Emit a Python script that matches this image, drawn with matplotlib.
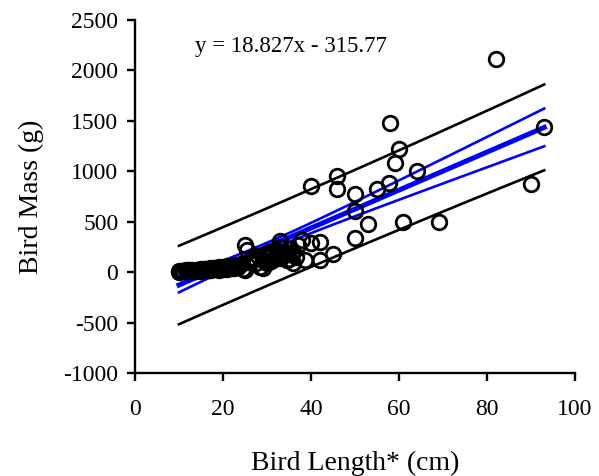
import matplotlib
matplotlib.use("Agg")
import matplotlib.pyplot as plt
import numpy as np

# bird length (cm) and mass (g)
length = [10, 10.5, 11, 11.5, 12, 12.5, 13, 13.5, 14, 14.5, 15, 15.5, 16, 16.5,
          17, 17.5, 18, 18.5, 19, 19.5, 20, 20.5, 21, 21.5, 22, 22.5, 23, 23.5,
          10, 11, 12, 13, 14, 15, 16, 17, 18, 19, 20, 21, 22, 23, 12, 14, 16, 18,
          20, 22, 15, 17, 19, 21,
          24, 24.5, 25, 25, 25.5, 26, 26.5, 27, 27.5, 28, 28.5, 29, 29.5, 30,
          30.5, 31, 31.5, 32, 32.5, 33, 33, 33.5, 34, 34.5, 35, 35.5, 36, 36.5,
          31, 32, 33, 34, 35, 36, 29, 30,
          37, 38, 38.6, 40, 42, 42, 45, 40, 46, 46, 50, 50, 50, 53, 55, 57.8,
          58, 59, 60, 61, 64, 69, 82, 90, 93]
mass = [10, 15, 12, 20, 15, 18, 22, 14, 25, 20, 30, 25, 35, 28,
        40, 30, 45, 35, 50, 40, 55, 45, 60, 50, 65, 40, 70, 55,
        5, 8, 10, 12, 15, 18, 20, 25, 28, 30, 35, 40, 45, 50, 20, 22, 30, 38,
        45, 55, 12, 18, 25, 30,
        80, 30, 20, 270, 220, 100, 120, 140, 90, 160, 50, 45, 180, 150,
        200, 170, 130, 220, 190, 310, 250, 160, 200, 120, 230, 180, 90, 150,
        110, 150, 140, 170, 130, 200, 120, 90,
        270, 320, 120, 290, 300, 120, 180, 850, 950, 820, 770, 610, 340, 480, 820, 880,
        1480, 1080, 1220, 500, 1000, 500, 2110, 870, 1440]

# regression shown on the chart
slope = 18.827
intercept = -315.77

# fit summary used for the 95% bands (estimated from the band widths)
n_obs = 80
x_mean = 30.3
sxx = 17300.0
resid_se = 192.0
t_val = 1.99

x = np.array(length, dtype=float)
y = np.array(mass, dtype=float)

xx = np.linspace(x.min(), x.max(), 100)
yy = slope * xx + intercept
ci = t_val * resid_se * np.sqrt(1.0 / n_obs + (xx - x_mean) ** 2 / sxx)
pi = t_val * resid_se * np.sqrt(1 + 1.0 / n_obs + (xx - x_mean) ** 2 / sxx)

plt.rcParams['font.family'] = ['Liberation Serif', 'DejaVu Serif']
plt.rcParams['axes.unicode_minus'] = False

fig = plt.figure(figsize=(5.99, 4.76), dpi=100)
ax = fig.add_axes([0.2254, 0.2164, 0.7346, 0.7416])

ax.plot(xx, yy + pi, color='black', lw=1.9, zorder=2)
ax.plot(xx, yy - pi, color='black', lw=1.9, zorder=2)
ax.plot(xx, yy + ci, color='#0000ff', lw=1.9, zorder=3)
ax.plot(xx, yy - ci, color='#0000ff', lw=1.9, zorder=3)
ax.plot(xx, yy, color='#0000ff', lw=3.6, zorder=3)
ax.plot(x, y, 'o', mfc='none', mec='black', mew=2.0, ms=10.5, zorder=4)

ax.text(13.6, 2235, 'y = 18.827x - 315.77', fontsize=16.5, va='center', ha='left')

ax.set_xlim(0, 100)
ax.set_ylim(-1000, 2500)
ax.set_xticks(np.arange(0, 101, 20))
ax.set_yticks(np.arange(-1000, 2501, 500))
ax.spines['top'].set_visible(False)
ax.spines['right'].set_visible(False)
ax.spines['left'].set_linewidth(1.7)
ax.spines['bottom'].set_linewidth(1.7)
ax.tick_params(axis='both', direction='out', length=6, width=1.7, labelsize=17)
ax.tick_params(axis='x', pad=13)
ax.tick_params(axis='y', pad=6)

ax.set_xlabel('Bird Length* (cm)', fontsize=20, labelpad=22)
ax.set_ylabel('Bird Mass (g)', fontsize=20, labelpad=14)

fig.savefig('out.png', dpi=100)
